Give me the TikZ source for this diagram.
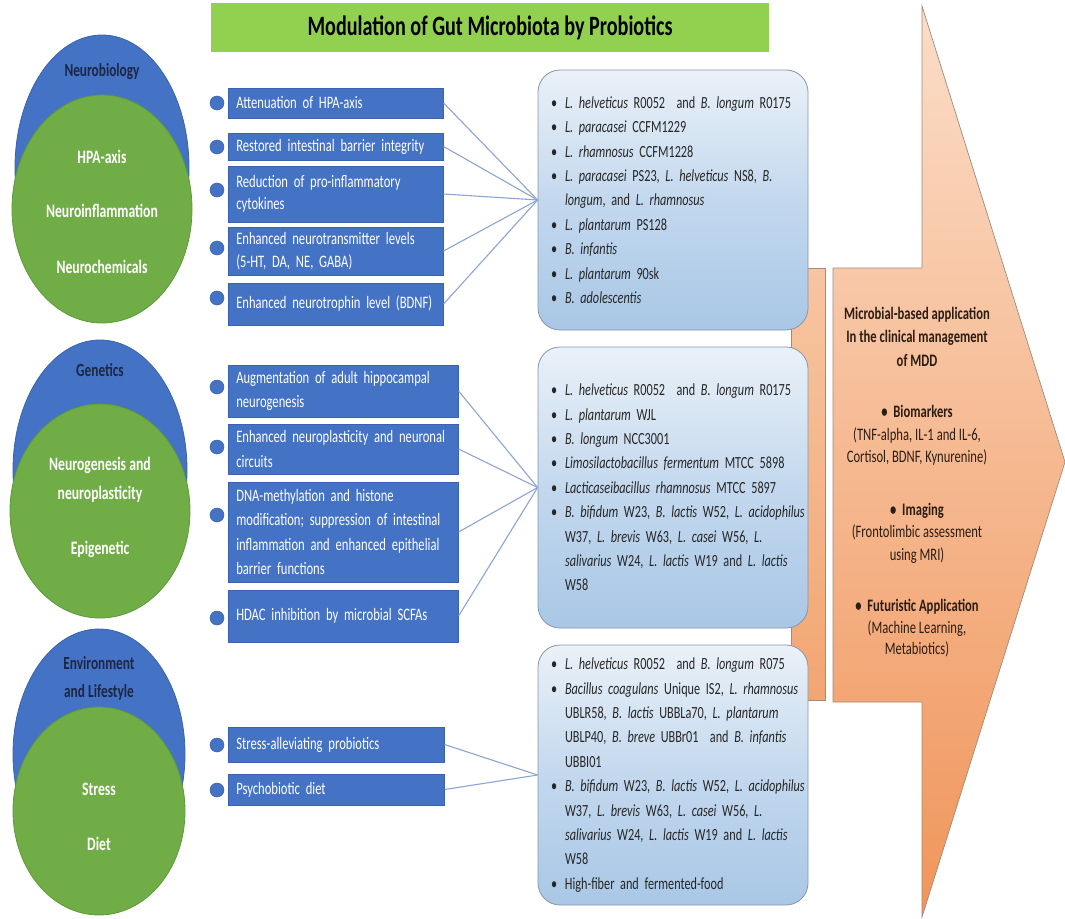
\documentclass[tikz,border=0pt]{standalone}
\usepackage{fontspec}
\setmainfont{Carlito}[FakeStretch=0.72]
\usetikzlibrary{shapes.geometric}
\definecolor{pblue}{HTML}{4472C4}
\definecolor{pbluedark}{HTML}{3A62AE}
\definecolor{pgreen}{HTML}{70AD47}
\definecolor{pgreendark}{HTML}{5E9A3A}
\definecolor{tgreen}{HTML}{92D050}
\definecolor{navy}{HTML}{1C2745}
\definecolor{conncol}{HTML}{8EA4D2}
\definecolor{rtop}{HTML}{EAF1F8}
\definecolor{rmid}{HTML}{C3D8EE}
\definecolor{rbot}{HTML}{A9C7E6}
\definecolor{rborder}{HTML}{8597AD}
\definecolor{atop}{HTML}{FBDDC8}
\definecolor{abot}{HTML}{F0955A}
\definecolor{stop}{HTML}{F7C5A1}
\definecolor{sbot}{HTML}{F2A672}
\definecolor{aborder}{HTML}{A08A7E}
\definecolor{atext}{HTML}{2B1D12}
\newcommand\mybul{\makebox[14pt][l]{\textbullet}}
\newcommand\myind{\hspace*{14pt}}
\newcommand\fsz[3]{\fontsize{#1}{#2}\selectfont\spaceskip=#3pt plus 1pt minus 0.5pt\relax}
\tikzset{
  blueell/.style={ellipse, inner sep=0pt, fill=pblue, draw=pbluedark, line width=0.8pt},
  greenell/.style={ellipse, inner sep=0pt, fill=pgreen, draw=pgreendark, line width=0.8pt},
  headlbl/.style={text=navy, font=\fsz{18.5}{26}{3.2}\bfseries, align=center},
  circlbl/.style={text=white, font=\fsz{19}{29}{3.2}\bfseries, align=center},
  dotc/.style={circle, fill=pblue, draw=pbluedark, line width=0.5pt, minimum size=14pt, inner sep=0pt},
  bbox/.style={rectangle, fill=pblue, draw=pbluedark, line width=0.6pt, text=white, align=left,
    inner xsep=8pt, inner ysep=0pt, anchor=west, font=\fsz{17.5}{22.5}{2.8}},
  rbox/.style={rectangle, rounded corners=22pt, draw=rborder, line width=0.8pt,
    top color=rtop, bottom color=rbot, middle color=rmid, align=left, text width=244pt,
    inner xsep=13pt, font=\fsz{17}{24.4}{2.8}, text=black!85},
  conn/.style={draw=conncol, line width=1.1pt},
  atxt/.style={text=atext, align=center, font=\fsz{17.5}{22.5}{2.9}},
}
\begin{document}
\begin{tikzpicture}[x=1pt,y=-1pt]
\useasboundingbox (0,0) rectangle (1065,918);
\fill[white] (0,0) rectangle (1065,918);

% title
\node[fill=tgreen, minimum width=558pt, minimum height=49pt, inner sep=0pt,
  font=\fsz{28}{32}{4.6}\bfseries, text=black] (title) at (490,27.5)
  {Modulation of Gut Microbiota by Probiotics};

% striped arrow
\shade[top color=stop, bottom color=sbot, draw=aborder, line width=0.7pt]
  (791,268) rectangle (825,700);
\shade[top color=atop, bottom color=abot, draw=aborder, line width=0.7pt]
  (833,268) -- (922,268) -- (922,6) -- (1065,462) -- (922,917) -- (922,702) -- (833,702) -- cycle;

% section 1 circles
\node[blueell, minimum width=174pt, minimum height=266pt] (e1b) at (102,168) {};
\node[greenell, minimum width=180pt, minimum height=228pt] (e1g) at (102,209) {};
\node[headlbl] (l1a) at (102,72) {Neurobiology};
\node[circlbl] (l1b) at (102,157) {HPA-axis};
\node[circlbl] (l1c) at (102,211) {Neuroinflammation};
\node[circlbl] (l1d) at (102,267) {Neurochemicals};

% section 2 circles
\node[blueell, minimum width=174pt, minimum height=260pt] (e2b) at (100,470) {};
\node[greenell, minimum width=180pt, minimum height=214pt] (e2g) at (100,511) {};
\node[headlbl] (l2a) at (100,370) {Genetics};
\node[circlbl] (l2b) at (100,480) {Neurogenesis and\\neuroplasticity};
\node[circlbl] (l2c) at (100,549) {Epigenetic};

% section 3 circles
\node[blueell, minimum width=172pt, minimum height=250pt] (e3b) at (99,754) {};
\node[greenell, minimum width=172pt, minimum height=208pt] (e3g) at (99,811) {};
\node[headlbl, font=\fsz{18.5}{28}{3.2}\bfseries] (l3a) at (99,678) {Environment\\and Lifestyle};
\node[circlbl] (l3b) at (99,789) {Stress};
\node[circlbl] (l3c) at (99,844) {Diet};

% dots
\foreach \n/\yy in {d1/103,d2/147,d3/190,d4/248,d5/298,d6/387,d7/447,d8/515,d9/618,d10/745,d11/790}
  \node[dotc] (\n) at (217,\yy) {};

% blue boxes section 1
\node[bbox, minimum width=215pt, text width=199pt, minimum height=30pt] (b1) at (228,103) {Attenuation of HPA-axis};
\node[bbox, minimum width=215pt, text width=199pt, minimum height=27pt] (b2) at (228,146.5) {Restored intestinal barrier integrity};
\node[bbox, minimum width=215pt, text width=199pt, minimum height=56pt] (b3) at (228,194) {Reduction of pro-inflammatory\\cytokines};
\node[bbox, minimum width=215pt, text width=199pt, minimum height=48pt] (b4) at (228,251) {Enhanced neurotransmitter levels\\(5-HT, DA, NE, GABA)};
\node[bbox, minimum width=215pt, text width=199pt, minimum height=42pt] (b5) at (228,304) {Enhanced neurotrophin level (BDNF)};

% blue boxes section 2
\node[bbox, minimum width=230pt, text width=214pt, minimum height=52pt, font=\fsz{17.5}{24.5}{2.8}] (b6) at (228,391) {Augmentation of adult hippocampal\\neurogenesis};
\node[bbox, minimum width=230pt, text width=214pt, minimum height=50pt, font=\fsz{17.5}{24.5}{2.8}] (b7) at (228,449) {Enhanced neuroplasticity and neuronal\\circuits};
\node[bbox, minimum width=230pt, text width=214pt, minimum height=100pt, font=\fsz{17.5}{24.5}{2.8}] (b8) at (228,532) {DNA-methylation and histone\\modification; suppression of intestinal\\inflammation and enhanced epithelial\\barrier functions};
\node[bbox, minimum width=230pt, text width=214pt, minimum height=52pt] (b9) at (228,616) {HDAC inhibition by microbial SCFAs};

% blue boxes section 3
\node[bbox, minimum width=216pt, text width=200pt, minimum height=35pt] (b10) at (228,744.5) {Stress-alleviating probiotics};
\node[bbox, minimum width=216pt, text width=200pt, minimum height=31pt] (b11) at (228,789.5) {Psychobiotic diet};

% rounded boxes
\node[rbox, minimum width=270pt, minimum height=260pt] (r1) at (673,200) {%
\mybul\textit{L. helveticus} R0052\ \ and \textit{B. longum} R0175\\
\mybul\textit{L. paracasei} CCFM1229\\
\mybul\textit{L. rhamnosus} CCFM1228\\
\mybul\textit{L. paracasei} PS23, \textit{L. helveticus} NS8, \textit{B.}\\
\myind\textit{longum}, and \textit{L. rhamnosus}\\
\mybul\textit{L. plantarum} PS128\\
\mybul\textit{B. infantis}\\
\mybul\textit{L. plantarum} 90sk\\
\mybul\textit{B. adolescentis}};

\node[rbox, minimum width=270pt, minimum height=281pt] (r2) at (673,487.5) {%
\mybul\textit{L. helveticus} R0052\ \ and \textit{B. longum} R0175\\
\mybul\textit{L. plantarum} WJL\\
\mybul\textit{B. longum} NCC3001\\
\mybul\textit{Limosilactobacillus fermentum} MTCC 5898\\
\mybul\textit{Lacticaseibacillus rhamnosus} MTCC 5897\\
\mybul\mbox{\textit{B. bifidum} W23, \textit{B. lactis} W52, \textit{L. acidophilus}}\\
\myind W37, \textit{L. brevis} W63, \textit{L. casei} W56, \textit{L.}\\
\myind\textit{salivarius} W24, \textit{L. lactis} W19 and \textit{L. lactis}\\
\myind W58};

\node[rbox, minimum width=270pt, minimum height=260pt] (r3) at (673,775) {%
\mybul\textit{L. helveticus} R0052\ \ and \textit{B. longum} R075\\
\mybul\mbox{\textit{Bacillus coagulans} Unique IS2, \textit{L. rhamnosus}}\\
\myind UBLR58, \textit{B. lactis} UBBLa70, \textit{L. plantarum}\\
\myind UBLP40, \textit{B. breve} UBBr01\ \ and \textit{B. infantis}\\
\myind UBBI01\\
\mybul\mbox{\textit{B. bifidum} W23, \textit{B. lactis} W52, \textit{L. acidophilus}}\\
\myind W37, \textit{L. brevis} W63, \textit{L. casei} W56, \textit{L.}\\
\myind\textit{salivarius} W24, \textit{L. lactis} W19 and \textit{L. lactis}\\
\myind W58\\
\mybul High-fiber and fermented-food};

% connectors
\foreach \b in {b1,b2,b3,b4,b5} \draw[conn] (\b.east) -- (r1.west);
\foreach \b in {b6,b7,b8,b9} \draw[conn] (\b.east) -- (r2.west);
\foreach \b in {b10,b11} \draw[conn] (\b.east) -- (r3.west);

% arrow text
\node[atxt, font=\fsz{17.5}{23.5}{2.9}\bfseries] (t1) at (917,336.5)
  {Microbial-based application\\In the clinical management\\of MDD};
\node[atxt] (t2) at (917,435.5)
  {\textbf{\textbullet\ \ Biomarkers}\\(TNF-alpha, IL-1 and IL-6,\\Cortisol, BDNF, Kynurenine)};
\node[atxt] (t3) at (917,533)
  {\textbf{\textbullet\ \ Imaging}\\(Frontolimbic assessment\\using MRI)};
\node[atxt, font=\fsz{17.5}{21.5}{2.9}] (t4) at (917,628.5)
  {\textbf{\textbullet\ \ Futuristic Application}\\(Machine Learning,\\Metabiotics)};
\end{tikzpicture}
\end{document}
